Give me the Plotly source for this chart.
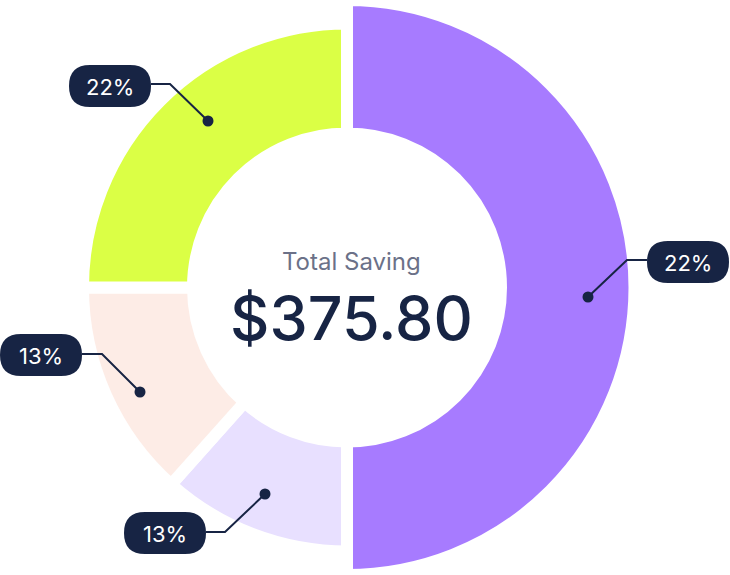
import plotly.graph_objects as go

W, H = 730, 575

# ---- data ----
categories = ["Purple", "Lavender", "Peach", "Lime"]
values = [50, 11.6, 13.4, 25]           # slice sizes (clockwise from 12 o'clock)
label_texts = ["22%", "13%", "13%", "22%"]
colors = ["#A77BFF", "#E8E0FF", "#FDECE6", "#DBFF45"]
center_title = "Total Saving"
center_value = "$375.80"

NAVY = "#172444"

# ---- geometry (pixels) ----
cx, cy = 347, 287.5
gap = 12
big_r = 287.5
small_r = 264
inner_r = 160

def px(x):
    return x / W

def py(y):
    return 1 - y / H

fig = go.Figure()

# big ring: purple slice only
fig.add_trace(go.Pie(
    labels=categories, values=values, sort=False, direction="clockwise", rotation=0,
    hole=(inner_r - gap / 2) / big_r,
    marker=dict(colors=[colors[0], "rgba(0,0,0,0)", "rgba(0,0,0,0)", "rgba(0,0,0,0)"],
                line=dict(color="white", width=[gap, 0, 0, 0])),
    textinfo="none", hoverinfo="skip", showlegend=False,
    domain=dict(x=[px(cx - big_r), px(cx + big_r)], y=[0, 1]),
))

# small ring: the other slices
fig.add_trace(go.Pie(
    labels=categories, values=values, sort=False, direction="clockwise", rotation=0,
    hole=(inner_r - gap / 2) / small_r,
    marker=dict(colors=["rgba(0,0,0,0)"] + colors[1:],
                line=dict(color="white", width=[0, gap, gap, gap])),
    textinfo="none", hoverinfo="skip", showlegend=False,
    domain=dict(x=[px(cx - small_r), px(cx + small_r)],
                y=[(H - cy - small_r) / H, (H - cy + small_r) / H]),
))

# label layout: dot, elbow, pill centre (pixels)
label_layout = [
    dict(dot=(588, 297), elbow=(627, 260), pill=(688, 262), side="right"),
    dict(dot=(265, 494), elbow=(225, 532), pill=(165, 533), side="left"),
    dict(dot=(140, 392), elbow=(102, 354), pill=(41, 355), side="left"),
    dict(dot=(208, 121), elbow=(170, 84), pill=(110, 86), side="left"),
]
pill_w, pill_h = 82, 42

def rounded_rect(x0, y0, x1, y1, r):
    def P(x, y):
        return f"{px(x):.5f},{py(y):.5f}"
    return (f"M {P(x0 + r, y0)} L {P(x1 - r, y0)} "
            f"Q {P(x1, y0)} {P(x1, y0 + r)} L {P(x1, y1 - r)} "
            f"Q {P(x1, y1)} {P(x1 - r, y1)} L {P(x0 + r, y1)} "
            f"Q {P(x0, y1)} {P(x0, y1 - r)} L {P(x0, y0 + r)} "
            f"Q {P(x0, y0)} {P(x0 + r, y0)} Z")

shapes = []
annotations = []
for txt, lay in zip(label_texts, label_layout):
    dx, dy = lay["dot"]
    ex, ey = lay["elbow"]
    pxc, pyc = lay["pill"]
    edge_x = pxc - pill_w / 2 if lay["side"] == "right" else pxc + pill_w / 2
    path = f"M {px(dx):.5f},{py(dy):.5f} L {px(ex):.5f},{py(ey):.5f} L {px(edge_x):.5f},{py(ey):.5f}"
    shapes.append(dict(type="path", path=path, xref="paper", yref="paper",
                       line=dict(color=NAVY, width=2), layer="above"))
    r = 5.5
    shapes.append(dict(type="circle", xref="paper", yref="paper",
                       x0=px(dx - r), x1=px(dx + r), y0=py(dy + r), y1=py(dy - r),
                       fillcolor=NAVY, line=dict(width=0), layer="above"))
    shapes.append(dict(type="path", xref="paper", yref="paper",
                       path=rounded_rect(pxc - pill_w / 2, pyc - pill_h / 2,
                                         pxc + pill_w / 2, pyc + pill_h / 2, pill_h / 2),
                       fillcolor=NAVY, line=dict(width=0), layer="above"))
    annotations.append(dict(text=txt, x=px(pxc), y=py(pyc + 1), xref="paper", yref="paper",
                            showarrow=False, xanchor="center", yanchor="middle",
                            font=dict(family="Inter", size=22, color="white")))

annotations.append(dict(text=center_title, x=px(351), y=py(261), xref="paper", yref="paper",
                        showarrow=False, xanchor="center", yanchor="middle",
                        font=dict(family="Inter", size=24, color="#6B7188")))
annotations.append(dict(text=center_value, x=px(351), y=py(318), xref="paper", yref="paper",
                        showarrow=False, xanchor="center", yanchor="middle",
                        font=dict(family="Inter", size=61, color=NAVY, weight=500)))

fig.update_layout(
    width=W, height=H, margin=dict(l=0, r=0, t=0, b=0),
    paper_bgcolor="white", plot_bgcolor="white",
    shapes=shapes, annotations=annotations, showlegend=False,
)

fig.write_html("out.html")
